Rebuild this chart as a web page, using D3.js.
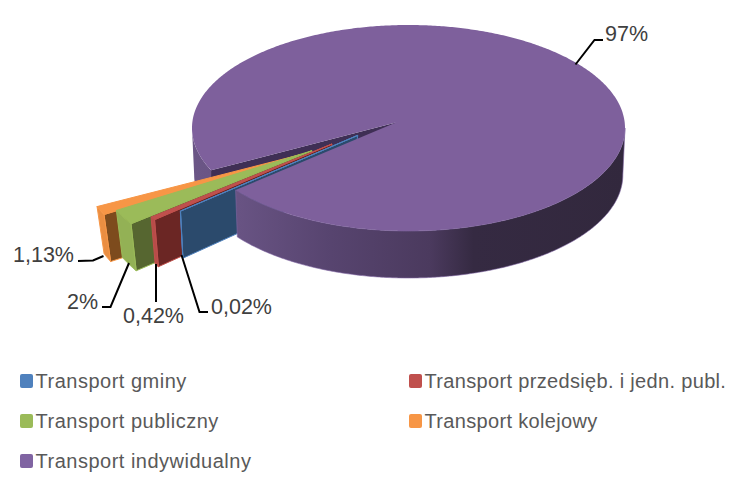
<!DOCTYPE html>
<html>
<head>
<meta charset="utf-8">
<script src="https://cdn.jsdelivr.net/npm/d3@7"></script>
<style>
html, body { margin: 0; padding: 0; background: #fff; }
text { font-family: "Liberation Sans", Arial, sans-serif; }
</style>
</head>
<body>
<div id="chart"></div>
<script>
// dane
var categories = ["Transport gminy", "Transport przedsięb. i jedn. publ.", "Transport publiczny", "Transport kolejowy", "Transport indywidualny"];
var values = [0.02, 0.42, 2, 1.13, 97];
var valueLabels = ["0,02%", "0,42%", "2%", "1,13%", "97%"];

// kolory
var topColors = ["#4f81bd", "#c0504d", "#9bbb59", "#f79646", "#7e609c"];
var rimColors = ["#4f81bd", "#b84c49", "#93b155", "#ea8e42", "#6a5585"];
var wallColors = ["#2b4a6c", "#6b2624", "#566630", "#7d4b1d", "#3f2f55"];
var legendColors = ["#4f81bd", "#c0504d", "#9bbb59", "#f79646", "#8064a2"];

// wysuniecie wycinkow
var explode = [0.2, 0.335, 0.44, 0.505, 0];

var width = 737, height = 482;
var depth = 47;
var startDeg = 233;
var mainC = { x: 408.5, y: 128, rx: 216.5, ry: 103 };
var apex = { x: 396, y: 122.5 };
var sliceR = { rx: 222, ry: 126 };

var svg = d3.select("#chart").append("svg")
	.attr("width", width)
	.attr("height", height)
	.style("display", "block");

var grad = svg.append("defs").append("linearGradient")
	.attr("id", "wallGrad")
	.attr("gradientUnits", "userSpaceOnUse")
	.attr("x1", 192).attr("x2", 625).attr("y1", 0).attr("y2", 0);
[[0, "#6b5686"], [0.11, "#685383"], [0.32, "#57446f"], [0.55, "#4b3a5e"], [0.65, "#352a42"], [1, "#32283d"]].forEach(function (s) {
	grad.append("stop").attr("offset", s[0]).attr("stop-color", s[1]);
});

var pie = d3.pie().sort(null)
	.startAngle(startDeg * Math.PI / 180)
	.endAngle((startDeg + 360) * Math.PI / 180);
var arcs = pie(values);

var line = d3.line().x(function (d) { return d[0]; }).y(function (d) { return d[1]; });

function onMain(a) {
	return [mainC.x + mainC.rx * Math.sin(a), mainC.y - mainC.ry * Math.cos(a)];
}

function sampleAngles(a0, a1) {
	var n = Math.max(2, Math.ceil(Math.abs(a1 - a0) / 0.01));
	return d3.range(n + 1).map(function (i) { return a0 + (a1 - a0) * i / n; });
}

// dolna krawedz sciany - lekko zwezona przez perspektywe
function lowerMain(p) {
	return [p[0] + 0.01 * (mainC.x - p[0]), p[1] + depth];
}
function lowerSlice(p) {
	return [p[0] + 0.055 * (225 - p[0]), p[1] + depth];
}

function wallPath(points, lower) {
	return line(points.concat(points.slice().reverse().map(lower))) + "Z";
}

var purple = arcs[4];
var farEnd = 1.5 * Math.PI;
var notchEnd = onMain(purple.startAngle);

// tyl duzego wycinka: sciana po lewej i wnetrze wyciecia
svg.append("path")
	.attr("d", wallPath(sampleAngles(purple.startAngle, farEnd).map(onMain), lowerMain))
	.attr("fill", "url(#wallGrad)");
svg.append("path")
	.attr("d", wallPath([[apex.x, apex.y], notchEnd], function (p) { return [p[0], p[1] + depth]; }))
	.attr("fill", wallColors[4]);

// male wycinki, od lewej do prawej - wysuwane w jednym kierunku
var explodeDir = (arcs[0].startAngle + arcs[3].endAngle) / 2;
var sliceOrder = [3, 2, 1, 0];
sliceOrder.forEach(function (i) {
	var d = arcs[i];
	var a = {
		x: apex.x + explode[i] * sliceR.rx * Math.sin(explodeDir),
		y: apex.y - explode[i] * sliceR.ry * Math.cos(explodeDir)
	};
	function onSlice(t) {
		return [a.x + sliceR.rx * Math.sin(t), a.y - sliceR.ry * Math.cos(t)];
	}
	var rim = sampleAngles(d.startAngle, d.endAngle).map(onSlice);
	var g = svg.append("g");
	// sciana boczna
	g.append("path")
		.attr("d", wallPath([[a.x, a.y], rim[0]], lowerSlice))
		.attr("fill", wallColors[i])
		.attr("stroke", topColors[i])
		.attr("stroke-width", 1);
	// krawedz zewnetrzna
	g.append("path")
		.attr("d", wallPath(rim, lowerSlice))
		.attr("fill", rimColors[i])
		.attr("stroke", topColors[i])
		.attr("stroke-width", 1);
	// gora
	g.append("path")
		.attr("d", line([[a.x, a.y]].concat(rim)) + "Z")
		.attr("fill", topColors[i])
		.attr("stroke", topColors[i])
		.attr("stroke-width", 1);
});

// przod duzego wycinka
svg.append("path")
	.attr("d", wallPath(sampleAngles(Math.PI / 2, purple.endAngle - 2 * Math.PI).map(onMain), lowerMain))
	.attr("fill", "url(#wallGrad)")
	.attr("stroke", "#8064a2")
	.attr("stroke-width", 0.6);

// gora duzego wycinka
svg.append("path")
	.attr("d", line([[apex.x, apex.y]].concat(sampleAngles(purple.startAngle, purple.endAngle).map(onMain))) + "Z")
	.attr("fill", topColors[4]);

// linie odniesienia i etykiety
var leaders = [
	[[181.5, 255], [199.5, 312], [208, 312]],
	[[156, 264], [156, 302]],
	[[129, 263], [110.5, 307], [102, 307]],
	[[103.5, 256], [93, 260.5], [78, 261]],
	[[575.5, 64.5], [594.5, 40], [603, 40]]
];
var labelPos = [[211, 314], [123, 323], [67, 309], [13, 262], [605, 41]];

leaders.forEach(function (l) {
	svg.append("path")
		.attr("d", line(l))
		.attr("fill", "none")
		.attr("stroke", "#000")
		.attr("stroke-width", 2);
});
valueLabels.forEach(function (t, i) {
	svg.append("text")
		.attr("x", labelPos[i][0])
		.attr("y", labelPos[i][1])
		.attr("font-size", 21.5)
		.attr("fill", "#404040")
		.text(t);
});

// legenda
var legendX = d3.scaleOrdinal().domain([0, 1]).range([20, 409]);
var legendY = d3.scaleBand().domain([0, 1, 2]).range([361, 481]);
var legendSpacing = [0.5, 0.33];
categories.forEach(function (c, i) {
	var col = i % 2, row = Math.floor(i / 2);
	var y = legendY(row) + legendY.bandwidth() / 2;
	svg.append("rect")
		.attr("x", legendX(col))
		.attr("y", y - 7)
		.attr("width", 13)
		.attr("height", 14)
		.attr("rx", 2)
		.attr("fill", legendColors[i]);
	svg.append("text")
		.attr("x", legendX(col) + 15.5)
		.attr("y", y + 7)
		.attr("font-size", 20)
		.attr("letter-spacing", legendSpacing[col])
		.attr("fill", "#595959")
		.text(c);
});
</script>
</body>
</html>
